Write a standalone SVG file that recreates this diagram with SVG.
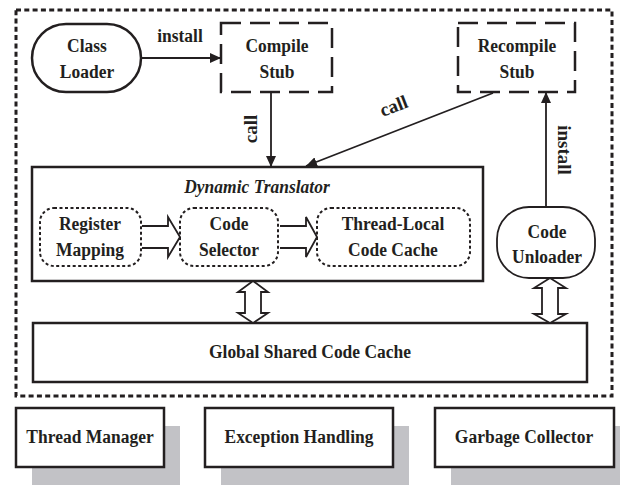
<svg xmlns="http://www.w3.org/2000/svg" width="620" height="501" viewBox="0 0 620 501">
<style>
text{font-family:"Liberation Serif","Times New Roman",serif;font-weight:bold;font-size:19px;fill:#231f20;text-anchor:middle}
.sx{transform-box:fill-box;transform-origin:center;transform:scaleX(0.92)}
.it{font-style:italic}
.box{fill:#fff;stroke:#231f20;stroke-width:2.5}
.dash{fill:#fff;stroke:#231f20;stroke-width:2.5;stroke-dasharray:20 9}
.dot{fill:#fff;stroke:#231f20;stroke-width:2;stroke-dasharray:3 2.5}
.outer{fill:none;stroke:#231f20;stroke-width:3;stroke-dasharray:5 3.3}
.shadow{fill:#c2c2c6}
.conn{fill:none;stroke:#231f20;stroke-width:1.8}
.hollow{fill:#fff;stroke:#231f20;stroke-width:1.8;stroke-linejoin:miter}
</style>
<defs>
<marker id="ah" markerUnits="userSpaceOnUse" markerWidth="12" markerHeight="10" refX="11" refY="5" orient="auto">
<path d="M0,0 L11,5 L0,10 z" fill="#231f20"/>
</marker>
</defs>

<rect class="outer" x="16" y="10" width="596" height="386"/>

<g id="class-loader">
<rect class="box" x="32" y="24" width="109" height="68" rx="34" ry="34"/>
<text class="sx" x="87" y="52">Class</text>
<text class="sx" x="87" y="78">Loader</text>
</g>

<g id="compile-stub">
<rect class="dash" x="221" y="23" width="111" height="69"/>
<text class="sx" x="277" y="52">Compile</text>
<text class="sx" x="277" y="78">Stub</text>
</g>

<g id="recompile-stub">
<rect class="dash" x="458" y="23" width="117" height="69"/>
<text class="sx" x="517" y="52">Recompile</text>
<text class="sx" x="517" y="78">Stub</text>
</g>

<g id="dynamic-translator">
<rect class="box" x="32" y="167" width="451" height="114"/>
<text class="sx it" x="257" y="193">Dynamic Translator</text>
</g>

<g id="register-mapping">
<rect class="dot" x="40" y="208" width="101" height="58" rx="14" ry="14"/>
<text class="sx" x="90" y="230">Register</text>
<text class="sx" x="90" y="256">Mapping</text>
</g>

<g id="code-selector">
<rect class="dot" x="180" y="208" width="98" height="58" rx="14" ry="14"/>
<text class="sx" x="229" y="230">Code</text>
<text class="sx" x="229" y="256">Selector</text>
</g>

<g id="thread-local-code-cache">
<rect class="dot" x="317" y="208" width="153" height="58" rx="14" ry="14"/>
<text class="sx" x="393" y="230">Thread-Local</text>
<text class="sx" x="393" y="256">Code Cache</text>
</g>

<g id="code-unloader">
<rect class="box" x="497" y="207" width="98" height="71" rx="32" ry="32" style="stroke-width:1.8"/>
<text class="sx" x="547" y="238">Code</text>
<text class="sx" x="547" y="263">Unloader</text>
</g>

<g id="global-shared-code-cache">
<rect class="box" x="33" y="323" width="554" height="59"/>
<text class="sx" x="310" y="358">Global Shared Code Cache</text>
</g>

<g id="thread-manager">
<rect class="shadow" x="32" y="426" width="148" height="59"/>
<rect class="box" x="16" y="408" width="148" height="59"/>
<text class="sx" x="90" y="443">Thread Manager</text>
</g>

<g id="exception-handling">
<rect class="shadow" x="221" y="426" width="188" height="59"/>
<rect class="box" x="205" y="408" width="188" height="59"/>
<text class="sx" x="299" y="443">Exception Handling</text>
</g>

<g id="garbage-collector">
<rect class="shadow" x="451" y="426" width="179" height="59"/>
<rect class="box" x="435" y="408" width="179" height="59"/>
<text class="sx" x="524" y="443">Garbage Collector</text>
</g>

<g id="connectors">
<line class="conn" x1="141" y1="58" x2="221" y2="58" marker-end="url(#ah)"/>
<text class="sx" x="180" y="42">install</text>
<line class="conn" x1="271" y1="92" x2="271" y2="167" marker-end="url(#ah)"/>
<text transform="translate(257,129) rotate(-90)">call</text>
<line class="conn" x1="493" y1="93" x2="306" y2="166" marker-end="url(#ah)"/>
<text transform="translate(396,112) rotate(-21)">call</text>
<line class="conn" x1="546" y1="207" x2="546" y2="92" marker-end="url(#ah)"/>
<text transform="translate(558,150) rotate(90)">install</text>
<path class="hollow" d="M142,226 H168 V217 L180,237 L168,257 V248 H142"/>
<path class="hollow" d="M280,226 H306 V217 L317,237 L306,257 V248 H280"/>
<path class="hollow" d="M253,281 L238,292 L245,292 L245,313 L238,313 L253,323 L268,313 L261,313 L261,292 L268,292 Z"/>
<path class="hollow" d="M550,278 L534,288 L542,288 L542,314 L534,314 L550,323 L566,314 L558,314 L558,288 L566,288 Z"/>
</g>
</svg>
